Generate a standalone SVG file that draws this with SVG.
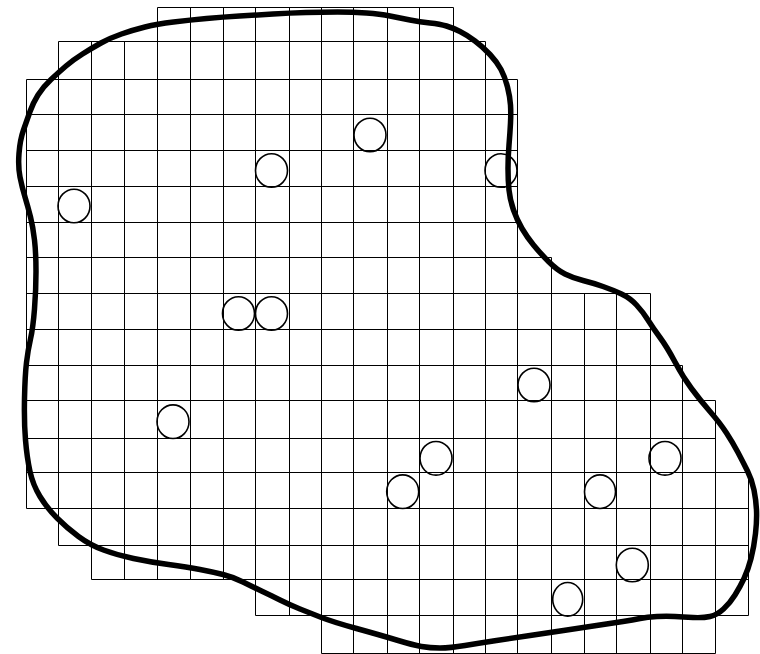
<svg xmlns="http://www.w3.org/2000/svg" width="760" height="654" viewBox="0 0 760 654">
<style>
.grid{fill:none;stroke:#000;stroke-width:1}
.dot{fill:none;stroke:#000;stroke-width:1.6}
.edge{fill:none;stroke:#000;stroke-width:5.5;stroke-linejoin:round;stroke-linecap:round}
</style>
<rect width="760" height="654" fill="#fff"/>
<g id="grid" class="grid">
<path d="M157.5 7.5H453.5M58.5 41.5H485.5M26.5 79.5H517.5M26.5 114.5H517.5M26.5 150.5H517.5M26.5 186.5H517.5M26.5 222.5H517.5M26.5 257.5H551.5M26.5 293.5H650.5M26.5 329.5H650.5M26.5 365.5H682.5M26.5 400.5H715.5M26.5 438.5H715.5M26.5 472.5H748.5M26.5 508.5H748.5M58.5 545.5H748.5M91.5 579.5H748.5M255.5 615.5H748.5M321.5 653.5H715.5"/>
<path d="M26.5 79.5V508.5M58.5 41.5V545.5M91.5 41.5V579.5M124.5 41.5V579.5M157.5 7.5V579.5M190.5 7.5V579.5M223.5 7.5V579.5M255.5 7.5V615.5M289.5 7.5V615.5M321.5 7.5V653.5M353.5 7.5V653.5M387.5 7.5V653.5M419.5 7.5V653.5M453.5 7.5V653.5M485.5 41.5V653.5M517.5 79.5V653.5M551.5 257.5V653.5M584.5 293.5V653.5M616.5 293.5V653.5M650.5 293.5V653.5M682.5 365.5V653.5M715.5 400.5V653.5M748.5 472.5V615.5"/>
</g>
<g id="circles" class="dot">
<ellipse id="c1" cx="74" cy="206" rx="16" ry="16.8"/>
<ellipse id="c2" cx="271.5" cy="170.5" rx="16" ry="16.8"/>
<ellipse id="c3" cx="370" cy="135" rx="16" ry="16.8"/>
<ellipse id="c4" cx="501" cy="170.5" rx="16" ry="16.8"/>
<ellipse id="c5" cx="238.5" cy="313.5" rx="16" ry="16.8"/>
<ellipse id="c6" cx="271.5" cy="313.5" rx="16" ry="16.8"/>
<ellipse id="c7" cx="173" cy="421.7" rx="16" ry="16.8"/>
<ellipse id="c8" cx="534" cy="385" rx="16" ry="16.8"/>
<ellipse id="c9" cx="436" cy="458.3" rx="16" ry="16.8"/>
<ellipse id="c10" cx="402.7" cy="491.7" rx="16" ry="16.8"/>
<ellipse id="c11" cx="665" cy="458.3" rx="16" ry="16.8"/>
<ellipse id="c12" cx="600" cy="491.7" rx="15.5" ry="16.8"/>
<ellipse id="c13" cx="632.3" cy="565" rx="16" ry="16.8"/>
<ellipse id="c14" cx="567.7" cy="599.3" rx="15" ry="16.8"/>
</g>
<g id="boundary">
<path class="edge" d="M20 177Q18 167 19 153.5Q20 140 23.5 130Q27 120 30 111.5Q33 103 38 95Q43 87 51 79.5Q59 72 66 66Q73 60 82.5 54Q92 48 101 43Q110 38 121.5 34Q133 30 145 27Q157 24 173.5 22Q190 20 206.5 18.5Q223 17 239.5 16Q256 15 273 14Q290 13 306 12.5Q322 12 337.5 12Q353 12 366.5 13Q380 14 390 16Q400 18 410 20Q420 22 430 23Q440 24 446.5 26Q453 28 460 31.5Q467 35 475 41Q483 47 490 54.5Q497 62 501 69.5Q505 77 507.5 87Q510 97 510.5 105Q511 113 510.5 123Q510 133 509 145Q508 157 508 168.5Q508 180 509 190Q510 200 513.5 210Q517 220 522 228.5Q527 237 533.5 245Q540 253 548.5 261.5Q557 270 565 274Q573 278 583 280.5Q593 283 603 286.5Q613 290 621.5 294Q630 298 636.5 305Q643 312 648 320Q653 328 660 337.5Q667 347 675 362Q683 377 691.5 388.5Q700 400 710 411.5Q720 423 726.5 433Q733 443 738 452.5Q743 462 747.5 471Q752 480 754 490Q756 500 756.5 510Q757 520 755.5 533.5Q754 547 751 558.5Q748 570 744 578.5Q740 587 735 595Q730 603 723.5 609Q717 615 710 616.5Q703 618 693 617.5Q683 617 675 616.5Q667 616 657 616.5Q647 617 640 618.5Q633 620 623 621.5Q613 623 596.5 625.5Q580 628 563.5 630.5Q547 633 530 635.5Q513 638 496.5 640.5Q480 643 465 645.5Q450 648 440 648Q430 648 421.5 646.5Q413 645 396.5 640Q380 635 356.5 628.5Q333 622 321.5 617.5Q310 613 300 609Q290 605 280 600Q270 595 261.5 591Q253 587 243 582Q233 577 223 574.5Q213 572 200 569.5Q187 567 168.5 564.5Q150 562 133.5 558.5Q117 555 103.5 550Q90 545 78.5 536.5Q67 528 57 518Q47 508 40 496.5Q33 485 30 471.5Q27 458 25.5 440Q24 422 24.5 398.5Q25 375 26.5 362.5Q28 350 30.5 339Q33 328 34.5 309Q36 290 36 271.5Q36 253 34.5 240Q33 227 30.5 217Q28 207 25 197Q22 187 20 177Z"/>
</g>
</svg>
